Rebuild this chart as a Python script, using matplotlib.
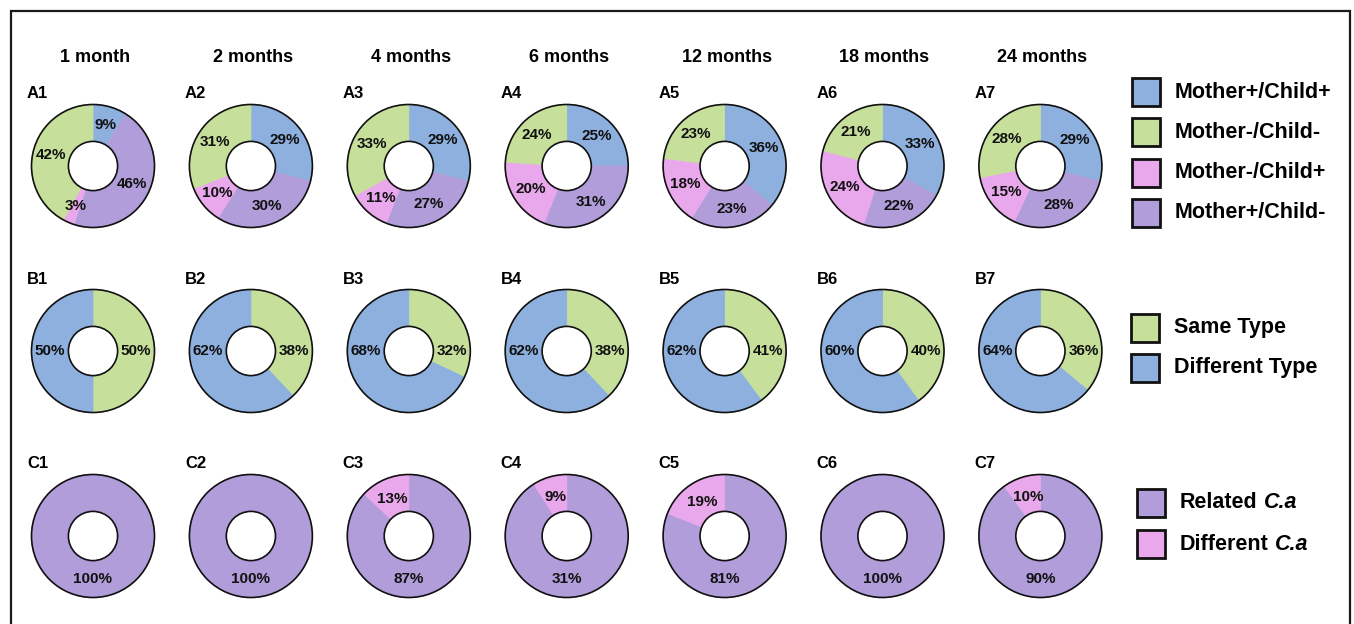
import matplotlib
matplotlib.use("Agg")
import numpy as np
import matplotlib.pyplot as plt
from matplotlib.patches import Circle, Rectangle

plt.rcParams['font.family'] = ['Liberation Sans', 'DejaVu Sans']
plt.rcParams['font.weight'] = 'bold'

months = ['1 month', '2 months', '4 months', '6 months',
          '12 months', '18 months', '24 months']

# row A - mother/child carriage, shares clockwise from 12 o'clock
mp_cp = [9, 29, 29, 25, 36, 33, 29]    # Mother+/Child+
mp_cm = [46, 30, 27, 31, 23, 22, 28]   # Mother+/Child-
mm_cp = [3, 10, 11, 20, 18, 24, 15]    # Mother-/Child+
mm_cm = [42, 31, 33, 24, 23, 21, 28]   # Mother-/Child-

# row B - genotype agreement
same_type = [50, 38, 32, 38, 41, 40, 36]
diff_type = [50, 62, 68, 62, 62, 60, 64]

# row C - strain relatedness (C4 label printed as 31% in the source figure)
related_ca = [100, 100, 87, 91, 81, 100, 90]
different_ca = [0, 0, 13, 9, 19, 0, 10]
related_text = ['100%', '100%', '87%', '31%', '81%', '100%', '90%']

BLUE = '#8db0de'
GREEN = '#c6e09b'
PINK = '#eaa8ec'
PURPLE = '#b19dda'

W, H = 1354, 624
R = 61.5
HOLE = 0.4
col_x = [93 + 157.9 * i for i in range(7)]
row_y = [166, 351, 536]

fig = plt.figure(figsize=(W / 100, H / 100), dpi=100)
ax = fig.add_axes([0, 0, 1, 1])


def donut(cx, cy, values, colors):
    keep = [(v, c) for v, c in zip(values, colors) if v > 0]
    wedges, _ = ax.pie([v for v, _ in keep], colors=[c for _, c in keep],
                       radius=R, center=(cx, H - cy),
                       startangle=90, counterclock=False,
                       wedgeprops=dict(width=R * (1 - HOLE), linewidth=0.6))
    for w in wedges:
        w.set_edgecolor(w.get_facecolor())
    for r in (R, R * HOLE):
        ax.add_patch(Circle((cx, H - cy), r, fill=False, ec='#111111',
                            lw=1.2, zorder=3))


def mid_angles(values):
    total = float(sum(values))
    out, cum = [], 0.0
    for v in values:
        out.append(90 - 360 * (cum + v / 2) / total)
        cum += v
    return out


def pct(cx, cy, angle, text, rf=0.7):
    a = np.deg2rad(angle)
    ax.text(cx + rf * R * np.cos(a), H - cy + rf * R * np.sin(a), text,
            ha='center', va='center', fontsize=11, color='#111111', zorder=4)


for i in range(7):
    cx = col_x[i]
    ax.text(cx + 2, H - 57, months[i], ha='center', va='center', fontsize=13)

    # A
    vals = [mp_cp[i], mp_cm[i], mm_cp[i], mm_cm[i]]
    donut(cx, row_y[0], vals, [BLUE, PURPLE, PINK, GREEN])
    for ang, v in zip(mid_angles(vals), vals):
        pct(cx, row_y[0], ang, f'{v}%')

    # B
    vals = [same_type[i], diff_type[i]]
    donut(cx, row_y[1], vals, [GREEN, BLUE])
    pct(cx, row_y[1], 0, f'{same_type[i]}%')
    pct(cx, row_y[1], 180, f'{diff_type[i]}%')

    # C
    vals = [related_ca[i], different_ca[i]]
    donut(cx, row_y[2], vals, [PURPLE, PINK])
    pct(cx, row_y[2], -90, related_text[i])
    if different_ca[i] > 0:
        pct(cx, row_y[2], mid_angles(vals)[1], f'{different_ca[i]}%', rf=0.66)

    for r, letter in enumerate('ABC'):
        ax.text(cx - 66, H - (row_y[r] - 72), f'{letter}{i + 1}',
                ha='left', va='center', fontsize=12)


def legend_entry(x, y, color, label, italic=None):
    ax.add_patch(Rectangle((x, H - y - 14), 28, 28, fc=color, ec='#111111',
                           lw=2, zorder=3))
    t = ax.text(x + 43, H - y, label, ha='left', va='center', fontsize=15.5)
    if italic:
        # species abbreviation set in italic right after the label
        ax.annotate(italic, xy=(1, 0.5), xycoords=t, xytext=(4.3, 0),
                    textcoords='offset points', ha='left', va='center',
                    fontsize=15.5, style='italic')


for y, c, lab in [(92, BLUE, 'Mother+/Child+'), (132, GREEN, 'Mother-/Child-'),
                  (173, PINK, 'Mother-/Child+'), (213, PURPLE, 'Mother+/Child-')]:
    legend_entry(1132, y, c, lab)
for y, c, lab in [(328, GREEN, 'Same Type'), (368, BLUE, 'Different Type')]:
    legend_entry(1131, y, c, lab)
for y, c, lab in [(503, PURPLE, 'Related'), (544, PINK, 'Different')]:
    legend_entry(1137, y, c, lab, italic='C.a')

# outer frame, open at the bottom edge of the canvas
ax.add_patch(Rectangle((11, -20), 1339, H - 11 + 20, fill=False,
                       ec='#1a1a1a', lw=1.6, zorder=5))

ax.set_xlim(0, W)
ax.set_ylim(0, H)
ax.set_aspect('equal')
ax.axis('off')

fig.savefig('out.png', dpi=100, facecolor='white')
